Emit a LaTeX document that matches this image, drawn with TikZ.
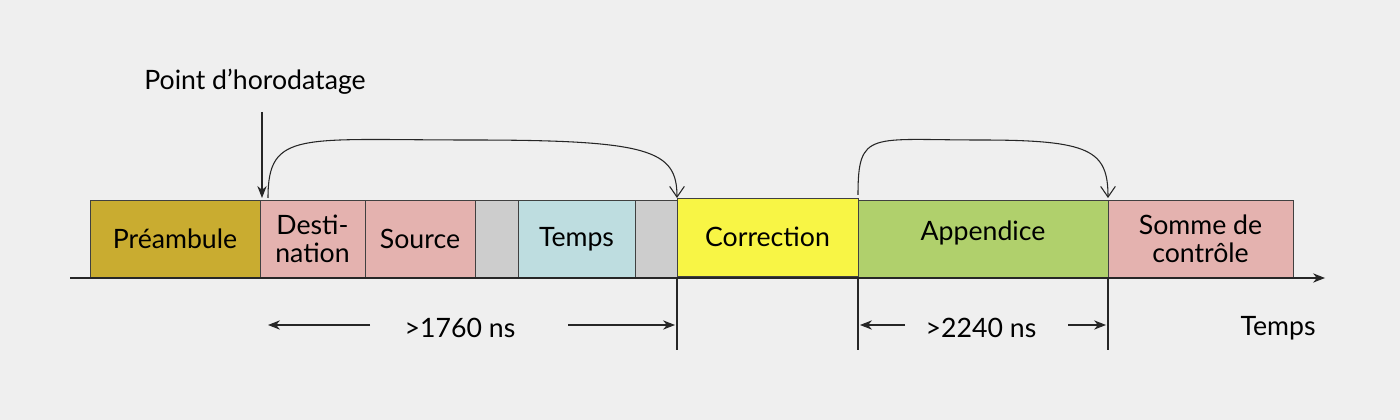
\documentclass[tikz,border=0pt]{standalone}
\usepackage{fontspec}
\setmainfont{Lato}
\usetikzlibrary{arrows.meta}
\definecolor{bg}{HTML}{EFEFEF}
\definecolor{cpre}{HTML}{C9AC30}
\definecolor{cpink}{HTML}{E4B2AF}
\definecolor{cgray}{HTML}{CDCDCD}
\definecolor{cblue}{HTML}{BEDDE0}
\definecolor{cyel}{HTML}{F8F545}
\definecolor{cgreen}{HTML}{B0D06C}
\begin{document}
\begin{tikzpicture}[x=0.75pt,y=-0.75pt,
  fld/.style={draw=black!75,line width=0.6pt,inner sep=0pt,font=\fontsize{20}{21}\selectfont,align=center},
  ln/.style={line width=0.8pt,black!85},
  lbl/.style={font=\fontsize{20}{21}\selectfont,inner sep=0pt}]
\fill[bg] (0,0) rectangle (1400,420);
\useasboundingbox (0,0) rectangle (1400,420);
\node[fld,fill=cpre,minimum width=170*0.75pt,minimum height=78*0.75pt] (pre) at (175,239) {Préambule};
\node[fld,fill=cpink,minimum width=105*0.75pt,minimum height=78*0.75pt] (dst) at (312.5,239) {Desti-\\nation};
\node[fld,fill=cpink,minimum width=110*0.75pt,minimum height=78*0.75pt] (src) at (420,239) {Source};
\node[fld,fill=cgray,minimum width=43*0.75pt,minimum height=78*0.75pt] (g1) at (496.5,239) {};
\node[fld,fill=cblue,minimum width=117*0.75pt,minimum height=78*0.75pt] (tmp) at (576.5,239) {Temps};
\node[fld,fill=cgray,minimum width=42*0.75pt,minimum height=78*0.75pt] (g2) at (656,239) {};
\node[fld,fill=cyel,minimum width=181*0.75pt,minimum height=78*0.75pt] (cor) at (767.5,237) {Correction};
\node[fld,fill=cgreen,minimum width=250*0.75pt,minimum height=78*0.75pt] (app) at (983,239) {};
\node[lbl] at (983,233) {Appendice};
\node[fld,fill=cpink,minimum width=185*0.75pt,minimum height=78*0.75pt] (som) at (1200.5,239) {Somme de\\contrôle};
\coordinate (a0) at (70,278); \coordinate (a1) at (1325,278);
\draw[ln,-{Stealth[length=9pt,width=7pt]}] (a0) -- (a1);
\node[lbl] (pt) at (255,82) {Point d’horodatage};
\coordinate (p1) at (262,112); \coordinate (p2) at (262,198);
\draw[ln,-{Stealth[length=9pt,width=7pt]}] (p1) -- (p2);
\coordinate (c1) at (268,198); \coordinate (c2) at (677,198);
\draw[ln,-{Straight Barb[length=8pt,width=11pt]}] (c1) .. controls (268,130) and (300,140) .. (470,140) .. controls (650,140) and (677,150) .. (c2);
\coordinate (d1) at (858,195); \coordinate (d2) at (1108,198);
\draw[ln,-{Straight Barb[length=8pt,width=11pt]}] (d1) .. controls (858,130) and (870,140) .. (980,140) .. controls (1090,140) and (1108,150) .. (d2);
\coordinate (t1) at (677,278); \coordinate (t1b) at (677,350);
\coordinate (t2) at (858,278); \coordinate (t2b) at (858,350);
\coordinate (t3) at (1108,278); \coordinate (t3b) at (1108,350);
\draw[ln] (t1)--(t1b); \draw[ln] (t2)--(t2b); \draw[ln] (t3)--(t3b);
\node[lbl] (m1) at (460,328) {>1760 ns};
\coordinate (m1a) at (370,325); \coordinate (m1b) at (268,325);
\coordinate (m1c) at (568,325); \coordinate (m1d) at (675,325);
\draw[ln,-{Stealth[length=9pt,width=7pt]}] (m1a)--(m1b);
\draw[ln,-{Stealth[length=9pt,width=7pt]}] (m1c)--(m1d);
\node[lbl] (m2) at (981,328) {>2240 ns};
\coordinate (m2a) at (905,325); \coordinate (m2b) at (860,325);
\coordinate (m2c) at (1068,325); \coordinate (m2d) at (1106,325);
\draw[ln,-{Stealth[length=9pt,width=7pt]}] (m2a)--(m2b);
\draw[ln,-{Stealth[length=9pt,width=7pt]}] (m2c)--(m2d);
\node[lbl] (tt) at (1278,328) {Temps};
\end{tikzpicture}
\end{document}
